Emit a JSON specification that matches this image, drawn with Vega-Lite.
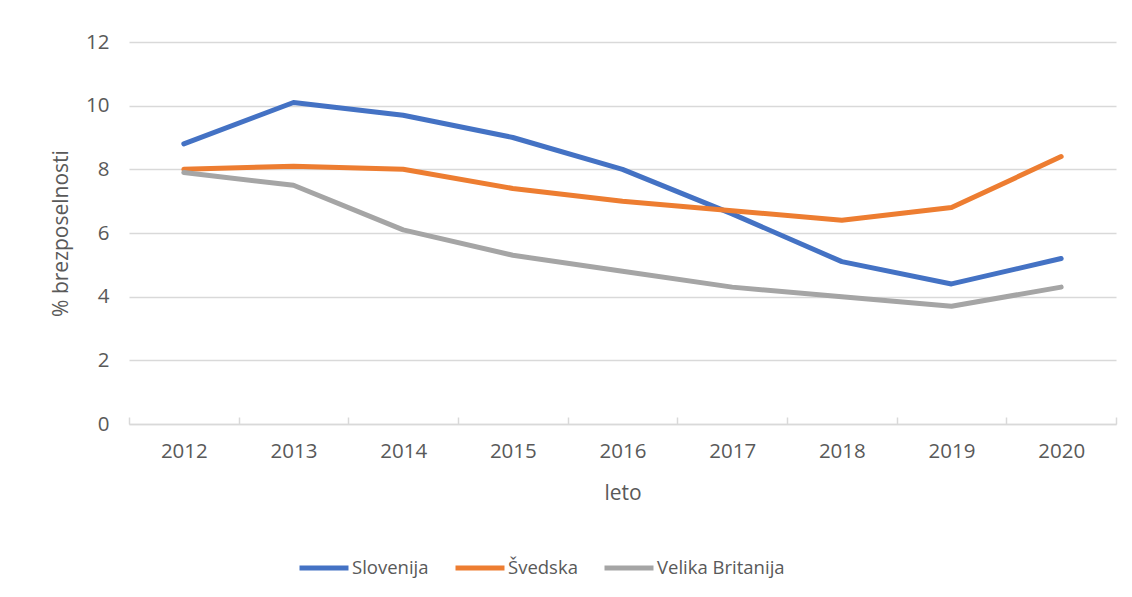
{
  "$schema": "https://vega.github.io/schema/vega-lite/v6.json",
  "autosize": {"type": "none"},
  "width": 987,
  "height": 382,
  "padding": {"left": 129, "top": 42, "right": 16, "bottom": 173},
  "background": "white",
  "data": {
    "values": [
      {"leto": "2012", "drzava": "Slovenija", "v": 8.8},
      {"leto": "2013", "drzava": "Slovenija", "v": 10.1},
      {"leto": "2014", "drzava": "Slovenija", "v": 9.7},
      {"leto": "2015", "drzava": "Slovenija", "v": 9.0},
      {"leto": "2016", "drzava": "Slovenija", "v": 8.0},
      {"leto": "2017", "drzava": "Slovenija", "v": 6.6},
      {"leto": "2018", "drzava": "Slovenija", "v": 5.1},
      {"leto": "2019", "drzava": "Slovenija", "v": 4.4},
      {"leto": "2020", "drzava": "Slovenija", "v": 5.2},
      {"leto": "2012", "drzava": "Švedska", "v": 8.0},
      {"leto": "2013", "drzava": "Švedska", "v": 8.1},
      {"leto": "2014", "drzava": "Švedska", "v": 8.0},
      {"leto": "2015", "drzava": "Švedska", "v": 7.4},
      {"leto": "2016", "drzava": "Švedska", "v": 7.0},
      {"leto": "2017", "drzava": "Švedska", "v": 6.7},
      {"leto": "2018", "drzava": "Švedska", "v": 6.4},
      {"leto": "2019", "drzava": "Švedska", "v": 6.8},
      {"leto": "2020", "drzava": "Švedska", "v": 8.4},
      {"leto": "2012", "drzava": "Velika Britanija", "v": 7.9},
      {"leto": "2013", "drzava": "Velika Britanija", "v": 7.5},
      {"leto": "2014", "drzava": "Velika Britanija", "v": 6.1},
      {"leto": "2015", "drzava": "Velika Britanija", "v": 5.3},
      {"leto": "2016", "drzava": "Velika Britanija", "v": 4.8},
      {"leto": "2017", "drzava": "Velika Britanija", "v": 4.3},
      {"leto": "2018", "drzava": "Velika Britanija", "v": 4.0},
      {"leto": "2019", "drzava": "Velika Britanija", "v": 3.7},
      {"leto": "2020", "drzava": "Velika Britanija", "v": 4.3}
    ]
  },
  "mark": {"type": "line", "strokeWidth": 5, "strokeCap": "round", "strokeJoin": "round"},
  "encoding": {
    "x": {
      "field": "leto", "type": "ordinal", "title": "leto",
      "scale": {"type": "band", "paddingInner": 0, "paddingOuter": 0},
      "axis": {
        "labelAngle": 0, "grid": false,
        "domainColor": "#d9d9d9", "domainWidth": 1.5,
        "ticks": true, "tickBand": "extent", "tickSize": -7,
        "tickColor": "#d9d9d9", "tickWidth": 1.5,
        "labelPadding": 24, "titlePadding": 21,
        "labelFontSize": 20.5, "titleFontSize": 21,
        "labelColor": "#595959", "titleColor": "#595959",
        "labelFont": "Open Sans", "titleFont": "Open Sans", "titleFontWeight": "normal"
      }
    },
    "y": {
      "field": "v", "type": "quantitative", "title": "% brezposelnosti",
      "scale": {"domain": [0, 12]},
      "axis": {
        "values": [0, 2, 4, 6, 8, 10, 12],
        "domain": false, "ticks": false,
        "gridColor": "#d9d9d9", "gridWidth": 1.5,
        "labelPadding": 20, "titlePadding": 14,
        "labelFontSize": 20.5, "titleFontSize": 21,
        "labelColor": "#595959", "titleColor": "#595959",
        "labelFont": "Open Sans", "titleFont": "Open Sans", "titleFontWeight": "normal"
      }
    },
    "color": {
      "field": "drzava", "type": "nominal",
      "scale": {"domain": ["Slovenija", "Švedska", "Velika Britanija"], "range": ["#4472C4", "#ED7D31", "#A5A5A5"]},
      "legend": {
        "title": null, "orient": "none", "direction": "horizontal",
        "legendX": 168, "legendY": 499,
        "symbolType": "stroke", "symbolSize": 2400, "symbolStrokeWidth": 5,
        "labelFontSize": 18.5, "labelColor": "#595959", "labelFont": "Open Sans",
        "labelOffset": 1, "columnPadding": 16
      }
    }
  },
  "config": {"view": {"stroke": null}}
}
